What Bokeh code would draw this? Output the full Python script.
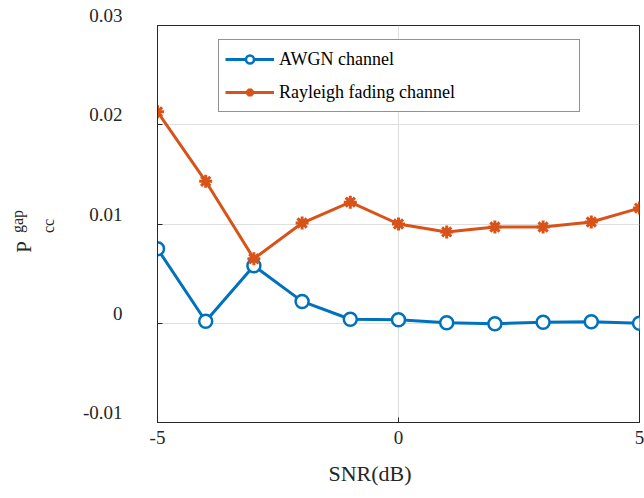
import math
from bokeh.plotting import figure
from bokeh.layouts import row
from bokeh.models import FixedTicker, Legend, LegendItem, Label, Range1d, Title
from bokeh.embed import file_html
from bokeh.resources import INLINE

snr = [-5, -4, -3, -2, -1, 0, 1, 2, 3, 4, 5]
awgn = [0.0075, 0.0002, 0.0058, 0.0022, 0.0004, 0.00035, 0.00005, -0.00005, 0.0001, 0.00015, 0.0]
rayleigh = [0.0213, 0.0143, 0.0065, 0.0101, 0.0122, 0.0100, 0.0092, 0.0097, 0.0097, 0.0102, 0.0116]
series_names = ["AWGN channel", "Rayleigh fading channel"]
x_ticks = [-5, 0, 5]
x_tick_labels = ["-5", "0", "5"]
y_ticks = [-0.01, 0, 0.01, 0.02, 0.03]
y_tick_labels = ["-0.01", "0", "0.01", "0.02", "0.03"]
x_label = "SNR(dB)"
y_label_main, y_label_sup, y_label_sub = "P", "gap", "cc"

FONT = "Liberation Serif"
AX = "#262626"
BLUE = "#0072BD"
ORANGE = "#D95319"
LEFT_W = 60
TOP_B, BOTTOM_B = 25, 76

# ---- main plot ----
p = figure(width=644 - LEFT_W, height=498, output_backend="svg", toolbar_location=None,
           x_range=Range1d(-5, 5), y_range=Range1d(-0.01, 0.03),
           min_border_left=157 - LEFT_W, min_border_right=5,
           min_border_top=TOP_B, min_border_bottom=BOTTOM_B)
p.background_fill_color = "white"
p.border_fill_color = "white"
p.outline_line_color = AX
p.outline_line_width = 1

for ax in (p.xaxis[0], p.yaxis[0]):
    ax.axis_line_color = AX
    ax.major_tick_line_color = AX
    ax.major_tick_in = 5
    ax.major_tick_out = 0
    ax.minor_tick_line_color = None
    ax.major_label_text_font = FONT
    ax.major_label_text_font_size = "19px"
    ax.major_label_text_color = AX

p.xaxis[0].ticker = FixedTicker(ticks=x_ticks)
p.xaxis[0].major_label_overrides = {t: l for t, l in zip(x_ticks, x_tick_labels)}
p.xaxis[0].major_label_standoff = 8

p.yaxis[0].ticker = FixedTicker(ticks=y_ticks)
p.yaxis[0].major_label_overrides = {t: l + "\n" for t, l in zip(y_ticks, y_tick_labels)}
p.yaxis[0].major_label_text_line_height = 0.95
p.yaxis[0].major_label_standoff = 35

p.xgrid.ticker = FixedTicker(ticks=x_ticks)
p.ygrid.ticker = FixedTicker(ticks=y_ticks)
for g in (p.xgrid, p.ygrid):
    g.grid_line_color = "#dfdfdf"
    g.grid_line_width = 1

l1 = p.line(snr, awgn, line_color=BLUE, line_width=3)
m1 = p.scatter(snr, awgn, marker="circle", size=13, line_color=BLUE, line_width=2.5, fill_color="white")
l2 = p.line(snr, rayleigh, line_color=ORANGE, line_width=3)
m2 = p.scatter(snr, rayleigh, marker="asterisk", size=13, line_color=ORANGE, line_width=3)

legend = Legend(items=[LegendItem(label=series_names[0], renderers=[l1, m1]),
                       LegendItem(label=series_names[1], renderers=[l2, m2])],
                location=(61, 310), margin=0, padding=6, spacing=7,
                glyph_width=49, glyph_height=20, label_height=26, label_width=294,
                label_standoff=5, label_text_font=FONT, label_text_font_size="18px",
                label_text_baseline="alphabetic",
                label_text_color="black", border_line_color=AX, border_line_width=1,
                background_fill_color="white", background_fill_alpha=1)
p.add_layout(legend)

p.add_layout(Title(text=x_label, align="left", offset=171, standoff=25,
                   text_font=FONT, text_font_size="22px", text_font_style="normal",
                   text_color=AX), "below")

# ---- left strip holding the rotated y label (its frame is aligned with p's frame) ----
lf = figure(width=LEFT_W, height=498, output_backend="svg", toolbar_location=None,
            x_range=Range1d(0, LEFT_W), y_range=Range1d(498 - BOTTOM_B, TOP_B),
            x_axis_location=None, y_axis_location=None,
            min_border_left=0, min_border_right=0,
            min_border_top=TOP_B, min_border_bottom=BOTTOM_B)
lf.outline_line_color = None
lf.xgrid.visible = False
lf.ygrid.visible = False
lf.background_fill_color = "white"
lf.border_fill_color = "white"
label_pos = ((y_label_main, 23.5, 246.5, "21px"),
             (y_label_sup, 16.5, 221, "16px"),
             (y_label_sub, 48, 225.5, "16px"))
for txt, cx, cy, fs in label_pos:
    lf.add_layout(Label(x=cx, y=cy, text=txt, angle=math.pi / 2,
                        text_align="center", text_baseline="middle",
                        text_font=FONT, text_font_size=fs, text_color=AX))

layout = row(lf, p, spacing=0)
open("out.html", "w").write(file_html(layout, INLINE))
